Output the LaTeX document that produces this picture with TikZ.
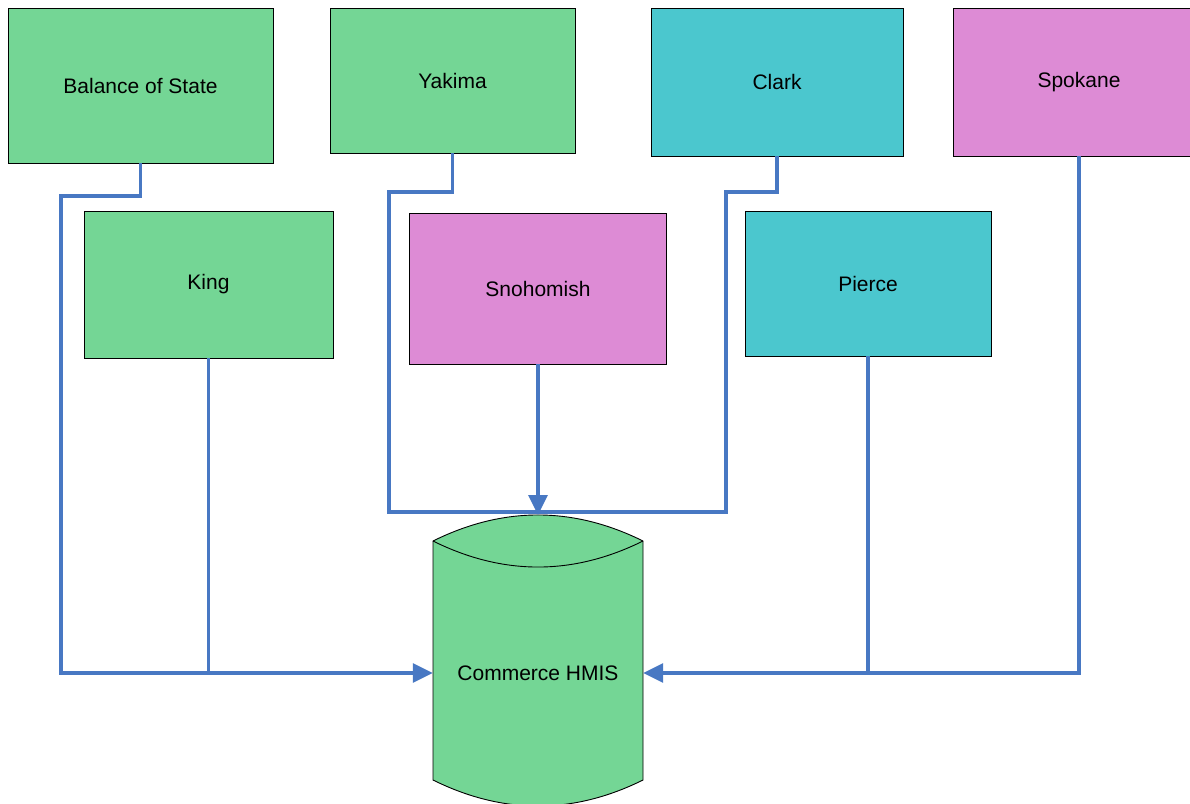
\documentclass[tikz,border=0pt]{standalone}
\usepackage{fontspec}
\setmainfont{Liberation Sans}
\usetikzlibrary{arrows.meta}
\definecolor{boxgreen}{RGB}{116,214,149}
\definecolor{boxpink}{RGB}{221,139,213}
\definecolor{boxcyan}{RGB}{75,199,206}
\definecolor{linkblue}{RGB}{72,120,195}
\begin{document}
\begin{tikzpicture}[x=1pt,y=-1pt,
  box/.style={draw=black,line width=0.9pt,rectangle,inner sep=0pt,
    font=\fontsize{21}{25}\selectfont},
  conn/.style={draw=linkblue,line width=3.2pt},
  arr/.style={conn,-{Triangle[length=20pt,width=19pt]}}]
\useasboundingbox (0,0) rectangle (1190,803);
\clip (0,0) rectangle (1190,803);
\fill[white] (0,0) rectangle (1190,803);
% boxes
\node[box,fill=boxgreen,minimum width=265pt,minimum height=155pt] (bos) at (140.5,85.5) {Balance of State};
\node[box,fill=boxgreen,minimum width=245pt,minimum height=145pt] (yakima) at (452.5,80.5) {Yakima};
\node[box,fill=boxcyan,minimum width=252pt,minimum height=148pt] (clark) at (777,82) {Clark};
\node[box,fill=boxpink,minimum width=252pt,minimum height=148pt] (spokane) at (1079,82) {Spokane};
\node[box,fill=boxgreen,minimum width=249pt,minimum height=147pt] (king) at (208.5,284.5) {King};
\node[box,fill=boxpink,minimum width=257pt,minimum height=151pt] (snoh) at (538,288.5) {Snohomish};
\node[box,fill=boxcyan,minimum width=246pt,minimum height=145pt] (pierce) at (868,283.5) {Pierce};
% cylinder
\filldraw[fill=boxgreen,draw=black,line width=0.9pt]
  (433,541) .. controls (503,506.3) and (573,506.3) .. (643,541)
  -- (643,780) .. controls (573,814.7) and (503,814.7) .. (433,780) -- cycle;
\draw[black,line width=0.9pt] (433,541) .. controls (503,575.7) and (573,575.7) .. (643,541);
\node[inner sep=0pt,minimum width=210pt,minimum height=20pt,font=\fontsize{21}{25}\selectfont] (hmis) at (538,673) {Commerce HMIS};
\coordinate (hmistop) at (538,515);
% connectors
\coordinate (c1) at (61,196);
\draw[arr] (bos.south) |- (c1) |- (hmis.west);
\draw[conn] (king.south) -- (king.south |- hmis.west);
\draw[conn] (pierce.south) -- (pierce.south |- hmis.east);
\draw[arr] (spokane.south) |- (hmis.east);
\coordinate (ya) at (389,192);
\coordinate (cl) at (726,512);
\coordinate (cb) at (726,192);
\draw[conn,line join=miter] (yakima.south) |- (ya) |- (cl) -- (cb) -| (clark.south);
\draw[arr] (snoh.south) -- (hmistop);
\end{tikzpicture}
\end{document}
